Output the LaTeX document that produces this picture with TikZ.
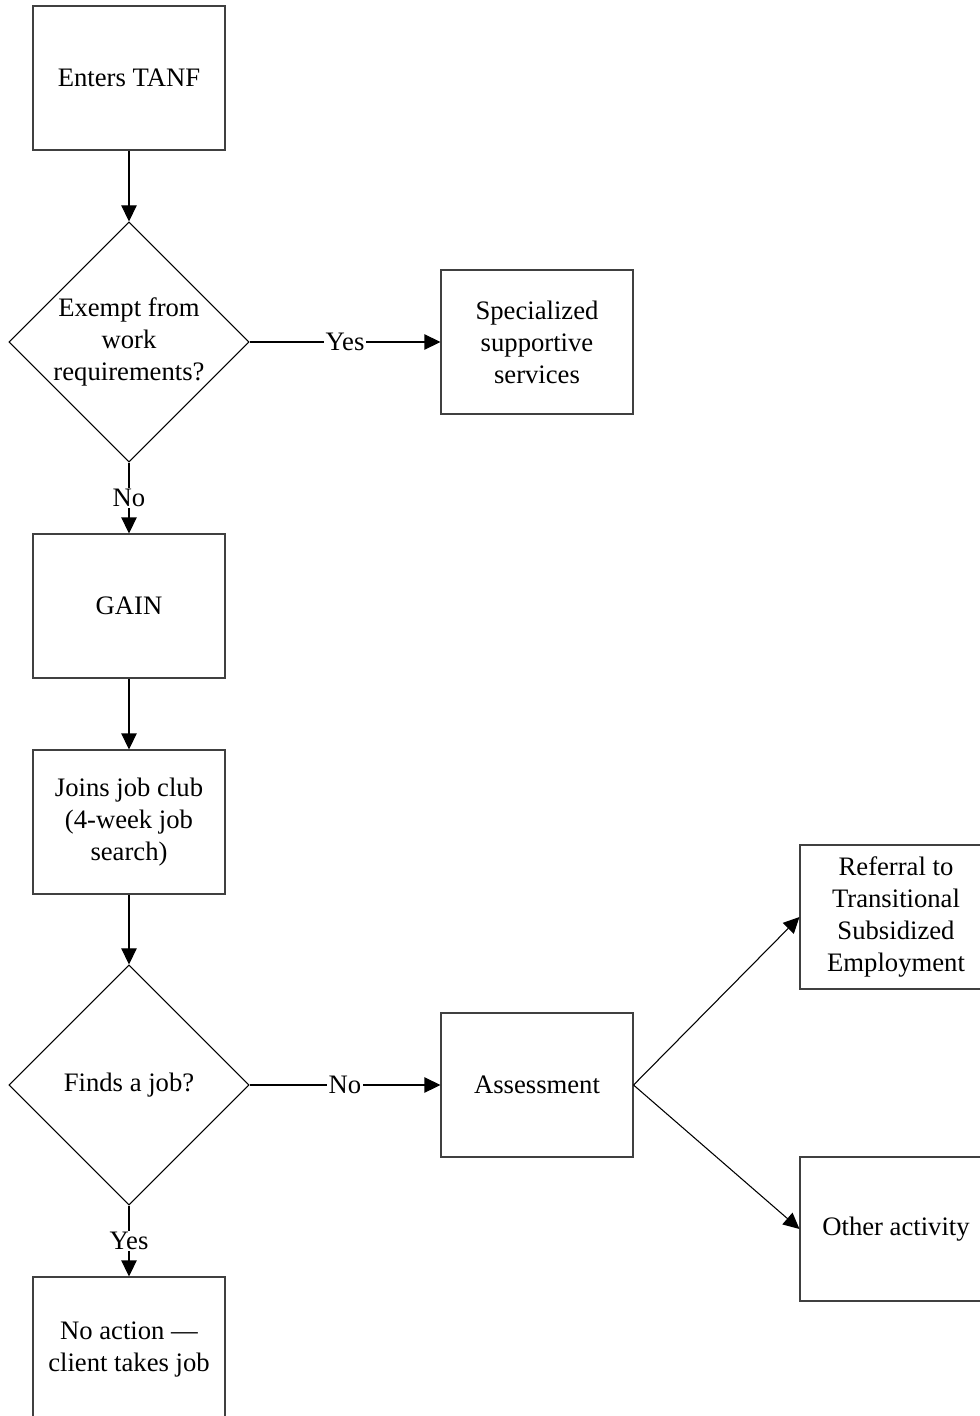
\documentclass[tikz,border=0pt]{standalone}
\usepackage{fontspec}
\setmainfont{Liberation Serif}
\usetikzlibrary{shapes.geometric,arrows.meta}
\begin{document}
\begin{tikzpicture}[x=0.75pt,y=-0.75pt,
    font=\fontsize{20}{24}\selectfont,
    box/.style={draw=black!75, line width=0.8pt, minimum width=144pt, minimum height=108pt, align=center, inner sep=0pt},
    decision/.style={diamond, draw, line width=0.8pt, minimum width=180pt, minimum height=180pt, inner sep=0pt},
    flow/.style={-{Triangle[length=12pt,width=11.5pt]}, line width=0.8pt},
    answer/.style={fill=white, inner sep=1pt}]
  \useasboundingbox (0,0) rectangle (980,1416);
  \node[box] (tanf) at (129, 78) {Enters TANF};
  \node[decision, label={[align=center]center:Exempt from\\work\\requirements?}] (exempt) at (129, 342) {};
  \node[box] (special) at (537, 342) {Specialized\\supportive\\services};
  \node[box] (gain) at (129, 606) {GAIN};
  \node[box] (jobclub) at (129, 822) {Joins job club\\(4-week job\\search)};
  \node[decision, label={center:Finds a job?}] (findjob) at (129, 1085) {};
  \node[box] (assess) at (537, 1085) {Assessment};
  \node[box] (referral) at (896, 917) {Referral to\\Transitional\\Subsidized\\Employment};
  \node[box] (other) at (896, 1229) {Other activity};
  \node[box] (noaction) at (129, 1349) {No action ---\\client takes job};
  % connectors
  \draw[flow] (tanf) -- (exempt);
  \draw[flow] (exempt) -- node[answer] {Yes} (special);
  \draw[flow] (exempt) -- node[answer] {No} (gain);
  \draw[flow] (gain) -- (jobclub);
  \draw[flow] (jobclub) -- (findjob);
  \draw[flow] (findjob) -- node[answer] {No} (assess);
  \draw[flow] (findjob) -- node[answer] {Yes} (noaction);
  \draw[flow] (assess.east) -- (referral.west);
  \draw[flow] (assess.east) -- (other.west);
\end{tikzpicture}
\end{document}
